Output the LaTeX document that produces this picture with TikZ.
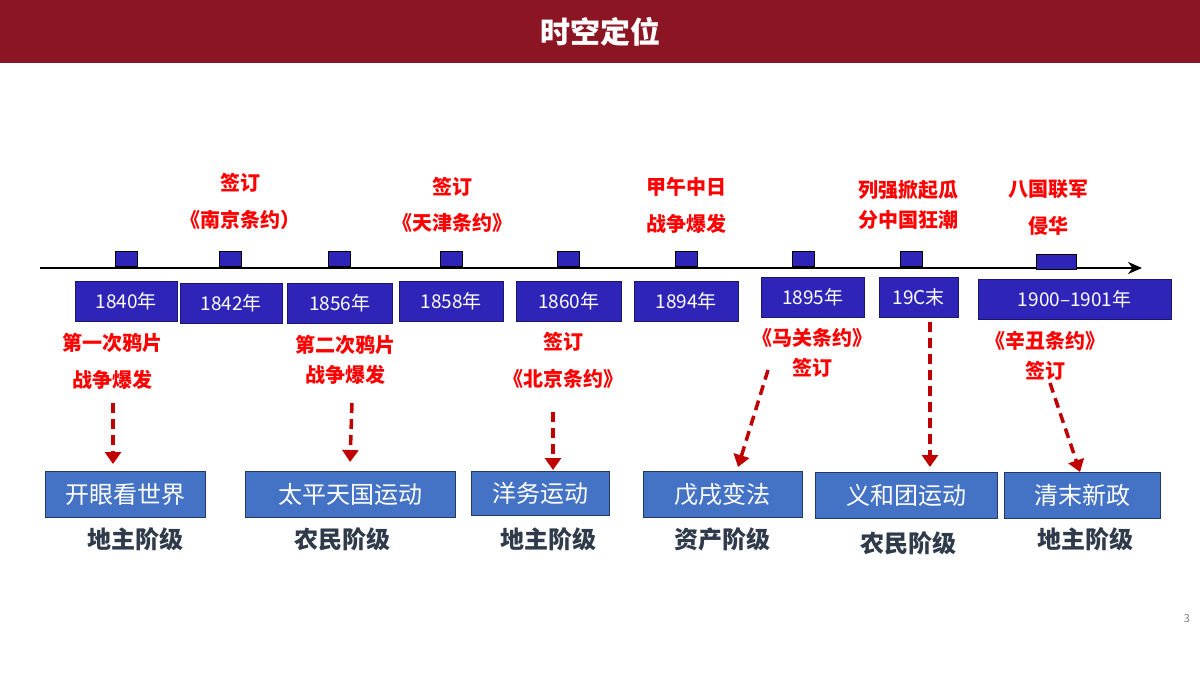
\documentclass[tikz,border=0pt]{standalone}
\usepackage{fontspec}
\setmainfont{Noto Sans CJK SC}
\usetikzlibrary{arrows.meta}
\definecolor{bar}{HTML}{8B1522}
\definecolor{yb}{HTML}{2E24B8}
\definecolor{eb}{HTML}{4472C4}
\definecolor{dr}{HTML}{C00000}
\definecolor{cl}{HTML}{2F3A4A}
\begin{document}
\begin{tikzpicture}[x=1pt,y=-1pt,
 yr/.style={fill=yb,draw=yb!60!black,text=white,font=\fontsize{19}{20}\selectfont,inner sep=0pt,anchor=north west},
 sq/.style={fill=yb,draw=black,line width=0.8pt,minimum width=22pt,minimum height=15pt,inner sep=0pt},
 rt/.style={text=red,font=\fontsize{20}{22}\selectfont\bfseries},
 ev/.style={fill=eb,draw=eb!50!black,text=white,font=\fontsize{24}{26}\selectfont,inner sep=0pt,anchor=north west},
 cls/.style={text=cl,font=\fontsize{24}{26}\selectfont\bfseries},
 da/.style={draw=dr,line width=3.5pt,dash pattern=on 10pt off 6pt,-{Triangle[length=12pt,width=16pt]}}]
\useasboundingbox (0,0) rectangle (1200,675);
\fill[bar] (0,0) rectangle (1200,63);
\node[text=white,font=\fontsize{30}{32}\selectfont\bfseries] (title) at (600,32) {时空定位};
% timeline
\coordinate (ls) at (40,268); \coordinate (le) at (1142,268);
\draw[line width=2.5pt,-{Stealth[length=14pt,width=12pt]}] (ls) -- (le);
\foreach \x/\n in {126/a,230/b,339/c,451/d,568/e,686/f,803/g,911/h}
  \node[sq] (s\n) at (\x,259) {};
\node[sq,minimum width=40pt] (si) at (1056,262) {};
% years
\node[yr,minimum width=102pt,minimum height=40pt] (y1) at (75,281) {1840年};
\node[yr,minimum width=102pt,minimum height=40pt] (y2) at (180,283) {1842年};
\node[yr,minimum width=105pt,minimum height=40pt] (y3) at (287,283) {1856年};
\node[yr,minimum width=104pt,minimum height=40pt] (y4) at (399,281) {1858年};
\node[yr,minimum width=105pt,minimum height=40pt] (y5) at (516,281) {1860年};
\node[yr,minimum width=104pt,minimum height=40pt] (y6) at (634,281) {1894年};
\node[yr,minimum width=103pt,minimum height=40pt] (y7) at (761,277) {1895年};
\node[yr,minimum width=79pt,minimum height=40pt] (y8) at (879,277) {19C末};
\node[yr,minimum width=193pt,minimum height=40pt] (y9) at (978,279) {1900--1901年};
% red texts above
\node[rt] (t1) at (240,183) {签订}; \node[rt] (t2) at (240,220) {《南京条约）};
\node[rt] (t3) at (452,187) {签订}; \node[rt] (t4) at (452,223) {《天津条约》};
\node[rt] (t5) at (686,187) {甲午中日}; \node[rt] (t6) at (686,224) {战争爆发};
\node[rt] (t7) at (908,190) {列强掀起瓜}; \node[rt] (t8) at (908,220) {分中国狂潮};
\node[rt] (t9) at (1048,189) {八国联军}; \node[rt] (t10) at (1048,226) {侵华};
% red texts below
\node[rt] (b1) at (112,343) {第一次鸦片}; \node[rt] (b2) at (112,380) {战争爆发};
\node[rt] (b3) at (345,345) {第二次鸦片}; \node[rt] (b4) at (345,375) {战争爆发};
\node[rt] (b5) at (563,342) {签订}; \node[rt] (b6) at (563,379) {《北京条约》};
\node[rt] (b7) at (812,338) {《马关条约》}; \node[rt] (b8) at (812,368) {签订};
\node[rt] (b9) at (1045,341) {《辛丑条约》}; \node[rt] (b10) at (1045,371) {签订};
% arrows
\coordinate (a1s) at (113,403); \coordinate (a1e) at (113,464);
\coordinate (a2s) at (352,403); \coordinate (a2e) at (350,462);
\coordinate (a3s) at (553,412); \coordinate (a3e) at (553,470);
\coordinate (a4s) at (768,370); \coordinate (a4e) at (738,467);
\coordinate (a5s) at (930,322); \coordinate (a5e) at (930,467);
\coordinate (a6s) at (1050,383); \coordinate (a6e) at (1080,472);
\foreach \i in {1,...,6} \draw[da] (a\i s) -- (a\i e);
% events
\node[ev,minimum width=160pt,minimum height=46pt] (e1) at (45,471) {开眼看世界};
\node[ev,minimum width=210pt,minimum height=46pt] (e2) at (245,471) {太平天国运动};
\node[ev,minimum width=138pt,minimum height=44pt] (e3) at (471,471) {洋务运动};
\node[ev,minimum width=159pt,minimum height=46pt] (e4) at (643,471) {戊戌变法};
\node[ev,minimum width=182pt,minimum height=46pt] (e5) at (815,472) {义和团运动};
\node[ev,minimum width=156pt,minimum height=46pt] (e6) at (1004,472) {清末新政};
% classes
\node[cls] (c1) at (135,539) {地主阶级};
\node[cls] (c2) at (342,539) {农民阶级};
\node[cls] (c3) at (548,539) {地主阶级};
\node[cls] (c4) at (722,539) {资产阶级};
\node[cls] (c5) at (908,543) {农民阶级};
\node[cls] (c6) at (1085,539) {地主阶级};
\node[text=gray,font=\fontsize{11}{12}\selectfont] (pg) at (1187,619) {3};
\end{tikzpicture}
\end{document}
